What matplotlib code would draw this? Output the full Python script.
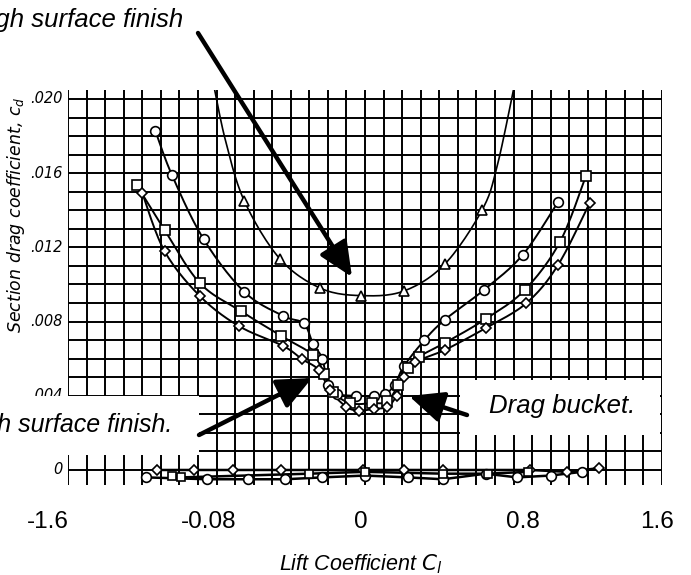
"""Drag polar (NACA scan style) with rough/smooth surface annotations."""

import matplotlib

matplotlib.use("Agg")
import matplotlib.pyplot as plt  # noqa: E402
import numpy as np  # noqa: E402
from matplotlib.patches import FancyArrowPatch, Rectangle  # noqa: E402

# rough surface (triangles)
tri_cl = [-0.65, -0.46, -0.24, -0.02, 0.21, 0.43, 0.63]
tri_cd = [0.0145, 0.0114, 0.0098, 0.0094, 0.00965, 0.0111, 0.0140]
# faired curve runs past the last points up to the top of the sheet
tri_fair_cl = [-0.81, -0.75, -0.65, -0.46, -0.24, -0.02, 0.21, 0.43, 0.63, 0.71, 0.80]
tri_fair_cd = [0.0205, 0.0177, 0.0145, 0.0114, 0.0098, 0.0094, 0.00965, 0.0111, 0.0140, 0.0163, 0.0205]

# smooth surface runs
circ_cl = [-1.13, -1.04, -0.87, -0.65, -0.44, -0.33, -0.28, -0.23, -0.20, -0.15,
           -0.05, 0.05, 0.11, 0.16, 0.21, 0.32, 0.43, 0.64, 0.85, 1.04]
circ_cd = [0.0183, 0.0159, 0.01245, 0.0096, 0.0083, 0.0079, 0.0068, 0.0060, 0.0046, 0.0041,
           0.0040, 0.0040, 0.0041, 0.0046, 0.0056, 0.0070, 0.0081, 0.0097, 0.0116, 0.01445]

sq_cl = [-1.23, -1.08, -0.89, -0.67, -0.45, -0.28, -0.22, -0.17, -0.08, 0.04,
         0.12, 0.18, 0.23, 0.29, 0.43, 0.65, 0.86, 1.05, 1.19]
sq_cd = [0.01536, 0.01294, 0.01008, 0.00857, 0.00722, 0.0062, 0.0052, 0.0042, 0.0036, 0.0036,
         0.0037, 0.0046, 0.0055, 0.0061, 0.00685, 0.00814, 0.0097, 0.01229, 0.01585]

dia_cl = [-1.20, -1.08, -0.89, -0.68, -0.44, -0.34, -0.25, -0.19, -0.10, -0.03,
          0.05, 0.12, 0.17, 0.21, 0.27, 0.43, 0.65, 0.87, 1.04, 1.21]
dia_cd = [0.01493, 0.0118, 0.00938, 0.00776, 0.00668, 0.00598, 0.0054, 0.0043, 0.0034, 0.0032,
          0.0033, 0.0034, 0.0040, 0.0050, 0.0058, 0.00647, 0.00765, 0.0090, 0.01105, 0.01439]

# moment points drawn along the zero line
mo_circ_cl = [-1.18, -0.85, -0.63, -0.43, -0.23, 0.0, 0.23, 0.42, 0.65, 0.82, 1.0, 1.17]
mo_circ = [-0.0004, -0.0005, -0.0005, -0.0005, -0.0004, -0.0003, -0.0004, -0.0005,
           -0.0002, -0.0004, -0.0003, -0.0001]
mo_dia_cl = [-1.12, -0.92, -0.71, -0.45, -0.01, 0.21, 0.42, 0.89, 1.09, 1.26]
mo_dia = [0.0, 0.0, 0.0, 0.0, 0.0, 0.0, 0.0, 0.0, -0.0001, 0.0001]
mo_sq_cl = [-1.04, -0.99, -0.30, 0.0, 0.42, 0.66, 0.88]
mo_sq = [-0.0003, -0.0004, -0.0002, -0.0001, -0.0002, -0.0002, -0.0001]

ytick_vals = [0.020, 0.016, 0.012, 0.008, 0.004, 0.0]
ytick_labels = [".020", ".016", ".012", ".008", ".004", "0"]
xtick_labels = ["-1.6", "-0.08", "0", "0.8", "1.6"]
xtick_px = [48, 209, 361, 523, 657]  # label centres, pixels

W, H = 691, 575
SANS = ["Liberation Sans", "DejaVu Sans"]


def smooth(x, y, n=14):
    """Catmull-Rom curve through the given points."""
    pts = np.column_stack([x, y]).astype(float)
    p = np.vstack([pts[0], pts, pts[-1]])
    t = np.linspace(0, 1, n, endpoint=False)[:, None]
    segs = []
    for i in range(1, len(p) - 2):
        p0, p1, p2, p3 = p[i - 1], p[i], p[i + 1], p[i + 2]
        segs.append(0.5 * (2 * p1 + (-p0 + p2) * t
                           + (2 * p0 - 5 * p1 + 4 * p2 - p3) * t ** 2
                           + (-p0 + 3 * p1 - 3 * p2 + p3) * t ** 3))
    segs.append(p[-2][None])
    out = np.vstack(segs)
    return out[:, 0], out[:, 1]


fig = plt.figure(figsize=(W / 100, H / 100), dpi=100)
ax = fig.add_axes([68 / W, 1 - 485 / H, (662 - 68) / W, (485 - 90) / H])
ymin, ymax = -0.00081, 0.020485
ax.set_xlim(-1.6, 1.6)
ax.set_ylim(ymin, ymax)
for s in ax.spines.values():
    s.set_visible(False)
ax.set_xticks([])
ax.set_yticks([])

ax.vlines(np.linspace(-1.6, 1.6, 33), ymin, ymax, color="k", lw=1.4, zorder=1)
ax.hlines(np.linspace(0, 0.020, 21), -1.6, 1.6, color="k", lw=1.4, zorder=1)

mk = dict(mfc="white", mec="k", mew=1.2, ls="none", zorder=4)
xs, ys = smooth(tri_fair_cl, tri_fair_cd)
ax.plot(xs, ys, color="k", lw=1.2, zorder=3)
ax.plot(tri_cl, tri_cd, marker="^", ms=6.5, **mk)
for cl, cd, m, ms in [(circ_cl, circ_cd, "o", 7), (sq_cl, sq_cd, "s", 6.5),
                      (dia_cl, dia_cd, "D", 5.5)]:
    xs, ys = smooth(cl, cd)
    ax.plot(xs, ys, color="k", lw=1.4, zorder=3)
    ax.plot(cl, cd, marker=m, ms=ms, **mk)

for cl, cm, m, ms in [(mo_dia_cl, mo_dia, "D", 5.5), (mo_circ_cl, mo_circ, "o", 7),
                      (mo_sq_cl, mo_sq, "s", 6)]:
    ax.plot(cl, cm, color="k", lw=1.8, zorder=3)
    ax.plot(cl, cm, marker=m, ms=ms, **mk)

for v, lab in zip(ytick_vals, ytick_labels):
    ax.text(-1.63, v, lab, ha="right", va="center", fontsize=10.5,
            style="italic", family="DejaVu Sans")
fig.text(16 / W, 1 - 215 / H, "Section drag coefficient, $c_d$", rotation=90,
         ha="center", va="center", fontsize=12.5, style="italic")

# annotation layer in pixel coordinates
ov = fig.add_axes([0, 0, 1, 1], zorder=5)
ov.set_xlim(0, W)
ov.set_ylim(H, 0)
ov.axis("off")
ov.patch.set_alpha(0)

ov.add_patch(Rectangle((0, 396), 199, 59, fc="white", ec="none"))
ov.add_patch(Rectangle((460, 380), 200, 55, fc="white", ec="none"))

txt = dict(family=SANS, style="italic", color="k")
ov.text(183, 27, "Rough surface finish", ha="right", va="baseline", fontsize=18.5, **txt)
ov.text(172, 432, "Smooth surface finish.", ha="right", va="baseline", fontsize=18, **txt)
ov.text(562, 413, "Drag bucket.", ha="center", va="baseline", fontsize=18.5, **txt)

arrow = dict(arrowstyle="-|>,head_length=1.0,head_width=0.45",
             mutation_scale=21, lw=3.2, color="k", shrinkA=0, shrinkB=0)
for a, b in [((198, 33), (352, 277)), ((199, 435), (312, 378)),
             ((467, 415), (409, 396))]:
    ov.add_patch(FancyArrowPatch(a, b, **arrow))

for x, lab in zip(xtick_px, xtick_labels):
    ov.text(x, 528, lab, ha="center", va="baseline", family=SANS, fontsize=17.5)
ov.text(361, 570, "Lift Coefficient $C_l$", ha="center", va="baseline",
        family=SANS, style="italic", fontsize=15.5)

fig.savefig("out.png", dpi=100)
